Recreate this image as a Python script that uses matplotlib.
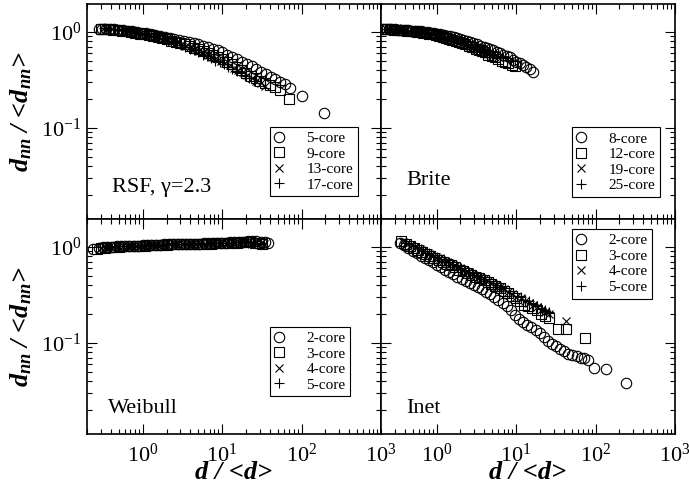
#!/usr/bin/env python3
"""Normalized nearest-neighbour degree vs normalized degree, k-core panels."""
import matplotlib
matplotlib.use('Agg')
import matplotlib.pyplot as plt

plt.rcParams['font.family'] = ['Liberation Serif', 'DejaVu Serif']
plt.rcParams['mathtext.fontset'] = 'custom'
plt.rcParams['mathtext.rm'] = 'Liberation Serif:bold'
plt.rcParams['mathtext.it'] = 'Liberation Serif:italic:bold'
plt.rcParams['mathtext.bf'] = 'Liberation Serif:bold'

# ---- RSF, gamma=2.3 ----
rsf5_x = [0.28, 0.31, 0.35, 0.39, 0.44, 0.5, 0.57, 0.65, 0.74, 0.85, 0.97, 1.1, 1.26, 1.45, 1.66,
          1.9, 2.2, 2.5, 2.9, 3.3, 3.8, 4.4, 5.0, 5.8, 6.6, 7.6, 8.8, 10.1, 11.6, 13.4,
          15.4, 17.7, 20.4, 23.5, 27, 31, 36, 41, 47, 54, 62, 72, 100, 192]
rsf5_y = [1.08, 1.08, 1.07, 1.07, 1.06, 1.05, 1.04, 1.03, 1.01, 1.0, 0.98, 0.97, 0.95, 0.93, 0.91,
          0.89, 0.87, 0.85, 0.83, 0.81, 0.79, 0.77, 0.74, 0.72, 0.69, 0.67, 0.64, 0.61, 0.58, 0.55,
          0.52, 0.49, 0.46, 0.44, 0.41, 0.385, 0.36, 0.34, 0.32, 0.30, 0.285, 0.26, 0.215, 0.142]
rsf9_x = [0.30, 0.34, 0.38, 0.43, 0.49, 0.55, 0.63, 0.71, 0.81, 0.92, 1.05, 1.2, 1.37, 1.56, 1.78,
          2.0, 2.3, 2.65, 3.0, 3.45, 3.95, 4.5, 5.2, 5.9, 6.8, 7.8, 8.9, 10.2, 11.7, 13.4,
          15.3, 17.5, 20, 23, 26.5, 30, 35, 40, 46, 53, 70]
rsf9_y = [1.07, 1.07, 1.06, 1.05, 1.04, 1.03, 1.01, 1.0, 0.98, 0.96, 0.94, 0.92, 0.9, 0.88, 0.86,
          0.84, 0.81, 0.79, 0.76, 0.74, 0.71, 0.68, 0.66, 0.63, 0.6, 0.575, 0.55, 0.52, 0.49, 0.46,
          0.435, 0.40, 0.375, 0.35, 0.33, 0.31, 0.295, 0.28, 0.265, 0.25, 0.20]
rsf13_x = [0.32, 0.36, 0.41, 0.46, 0.52, 0.59, 0.67, 0.76, 0.86, 0.98, 1.11, 1.26, 1.43, 1.62, 1.84,
           2.1, 2.4, 2.7, 3.1, 3.5, 4.0, 4.5, 5.1, 5.8, 6.6, 7.5, 8.5, 9.7, 11, 12.5,
           14.2, 16.1, 18.3, 20.8, 23.6, 26.8, 30.5, 35]
rsf13_y = [1.08, 1.07, 1.06, 1.05, 1.04, 1.03, 1.02, 1.0, 0.98, 0.96, 0.94, 0.92, 0.9, 0.88, 0.85,
           0.83, 0.8, 0.78, 0.75, 0.72, 0.69, 0.66, 0.63, 0.61, 0.58, 0.55, 0.53, 0.5, 0.47, 0.45,
           0.42, 0.4, 0.38, 0.355, 0.33, 0.31, 0.29, 0.27]
rsf17_x = [0.33, 0.37, 0.42, 0.47, 0.53, 0.6, 0.68, 0.77, 0.87, 0.99, 1.12, 1.27, 1.44, 1.63, 1.85,
           2.1, 2.4, 2.7, 3.05, 3.45, 3.9, 4.4, 5.0, 5.7, 6.4, 7.3, 8.2, 9.3, 10.5, 11.9,
           13.5, 15.3, 17.3, 19.6, 22, 25]
rsf17_y = [1.09, 1.08, 1.07, 1.06, 1.05, 1.04, 1.02, 1.0, 0.98, 0.96, 0.94, 0.91, 0.89, 0.86, 0.84,
           0.81, 0.78, 0.76, 0.73, 0.7, 0.67, 0.64, 0.61, 0.58, 0.56, 0.53, 0.5, 0.48, 0.46, 0.43,
           0.41, 0.39, 0.37, 0.35, 0.33, 0.31]

# ---- Brite ----
brite8_x = [0.21, 0.23, 0.25, 0.27, 0.3, 0.33, 0.36, 0.4, 0.44, 0.48, 0.53, 0.58, 0.64, 0.7, 0.77,
            0.85, 0.93, 1.02, 1.12, 1.23, 1.35, 1.49, 1.64, 1.8, 1.98, 2.18, 2.4, 2.64, 2.9, 3.2,
            3.5, 3.9, 4.3, 4.7, 5.2, 5.7, 6.3, 6.9, 7.6, 8.4, 9.2, 10.1, 11.1, 12.2, 13.4, 14.8, 16.3]
brite8_y = [1.07, 1.07, 1.06, 1.06, 1.06, 1.05, 1.05, 1.04, 1.04, 1.03, 1.02, 1.02, 1.01, 1.0, 0.99,
            0.98, 0.97, 0.96, 0.94, 0.93, 0.91, 0.9, 0.88, 0.86, 0.84, 0.82, 0.8, 0.78, 0.76, 0.74,
            0.72, 0.7, 0.68, 0.66, 0.64, 0.62, 0.6, 0.58, 0.56, 0.54, 0.51, 0.49, 0.47, 0.45, 0.425,
            0.405, 0.385]
brite12_x = [0.22, 0.24, 0.26, 0.29, 0.32, 0.35, 0.38, 0.42, 0.46, 0.51, 0.56, 0.61, 0.67, 0.74, 0.81,
             0.89, 0.98, 1.08, 1.19, 1.31, 1.44, 1.58, 1.74, 1.91, 2.1, 2.31, 2.54, 2.8, 3.1, 3.4,
             3.7, 4.1, 4.5, 5.0, 5.5, 6.0, 6.6, 7.3, 8.0, 8.8, 9.6]
brite12_y = [1.06, 1.06, 1.06, 1.05, 1.05, 1.04, 1.04, 1.03, 1.02, 1.01, 1.0, 0.99, 0.98, 0.97, 0.95,
             0.94, 0.92, 0.91, 0.89, 0.87, 0.85, 0.83, 0.81, 0.79, 0.77, 0.74, 0.72, 0.7, 0.67, 0.65,
             0.63, 0.61, 0.58, 0.56, 0.54, 0.52, 0.5, 0.48, 0.47, 0.455, 0.44]
brite19_x = [0.23, 0.25, 0.28, 0.31, 0.34, 0.37, 0.41, 0.45, 0.5, 0.55, 0.6, 0.66, 0.73, 0.8, 0.88,
             0.97, 1.07, 1.18, 1.3, 1.43, 1.57, 1.73, 1.9, 2.1, 2.3, 2.5, 2.8, 3.1, 3.4, 3.7,
             4.1, 4.5, 5.0, 5.5, 6.0]
brite19_y = [1.07, 1.07, 1.06, 1.06, 1.05, 1.05, 1.04, 1.03, 1.02, 1.01, 1.0, 0.99, 0.98, 0.96, 0.95,
             0.93, 0.91, 0.89, 0.87, 0.85, 0.83, 0.81, 0.78, 0.76, 0.74, 0.72, 0.69, 0.67, 0.65, 0.63,
             0.61, 0.59, 0.57, 0.55, 0.54]
brite25_x = [0.24, 0.26, 0.29, 0.32, 0.35, 0.39, 0.43, 0.47, 0.52, 0.57, 0.63, 0.69, 0.76, 0.84, 0.92,
             1.01, 1.11, 1.22, 1.34, 1.47, 1.62, 1.78, 1.96, 2.15, 2.37, 2.6, 2.86, 3.15, 3.45, 3.8,
             4.2, 4.6, 5.0]
brite25_y = [1.08, 1.07, 1.07, 1.06, 1.06, 1.05, 1.04, 1.03, 1.02, 1.01, 1.0, 0.99, 0.97, 0.96, 0.94,
             0.92, 0.9, 0.88, 0.86, 0.84, 0.82, 0.79, 0.77, 0.75, 0.73, 0.7, 0.68, 0.66, 0.64, 0.62,
             0.6, 0.58, 0.57]

# ---- Weibull ----
wb2_x = [0.24, 0.28, 0.32, 0.36, 0.41, 0.47, 0.53, 0.6, 0.68, 0.77, 0.88, 1.0, 1.13, 1.28, 1.46,
         1.66, 1.88, 2.14, 2.43, 2.76, 3.1, 3.55, 4.0, 4.6, 5.2, 5.9, 6.7, 7.6, 8.6, 9.8,
         11.1, 12.6, 14.3, 16.3, 18.5, 21, 24, 27, 31, 35, 38]
wb2_y = [0.94, 0.98, 0.99, 1.0, 1.0, 1.01, 1.01, 1.02, 1.02, 1.03, 1.03, 1.04, 1.04, 1.05, 1.05,
         1.05, 1.06, 1.06, 1.06, 1.07, 1.07, 1.07, 1.08, 1.08, 1.08, 1.09, 1.09, 1.09, 1.10, 1.10,
         1.10, 1.11, 1.11, 1.12, 1.13, 1.15, 1.16, 1.15, 1.13, 1.12, 1.09]
wb3_x = [0.27, 0.3, 0.34, 0.39, 0.44, 0.5, 0.57, 0.65, 0.73, 0.83, 0.94, 1.07, 1.21, 1.37, 1.56,
         1.77, 2.0, 2.28, 2.6, 2.95, 3.35, 3.8, 4.3, 4.9, 5.6, 6.3, 7.2, 8.2, 9.3, 10.5,
         12, 13.6, 15.4, 17.5, 20, 22.7, 25.8, 29, 32]
wb3_y = [0.95, 0.97, 0.98, 0.99, 1.0, 1.0, 1.01, 1.01, 1.02, 1.02, 1.03, 1.03, 1.04, 1.04, 1.04,
         1.05, 1.05, 1.06, 1.06, 1.06, 1.07, 1.07, 1.07, 1.08, 1.08, 1.08, 1.08, 1.09, 1.09, 1.09,
         1.10, 1.10, 1.10, 1.11, 1.11, 1.11, 1.10, 1.09, 1.07]
wb4_x = [0.3, 0.34, 0.38, 0.43, 0.49, 0.56, 0.63, 0.71, 0.8, 0.91, 1.03, 1.17, 1.32, 1.5, 1.7,
         1.92, 2.18, 2.47, 2.8, 3.2, 3.6, 4.1, 4.6, 5.2, 5.9, 6.7, 7.6, 8.6, 9.8, 11.1,
         12.6, 14.3, 16.2, 18.4, 20.9, 23.7, 27, 30.5, 34]
wb4_y = [0.98, 0.99, 1.0, 1.0, 1.01, 1.01, 1.02, 1.02, 1.03, 1.03, 1.03, 1.04, 1.04, 1.05, 1.05,
         1.05, 1.06, 1.06, 1.06, 1.07, 1.07, 1.07, 1.08, 1.08, 1.08, 1.09, 1.09, 1.09, 1.09, 1.10,
         1.10, 1.10, 1.11, 1.11, 1.11, 1.11, 1.10, 1.09, 1.08]
wb5_x = [0.31, 0.35, 0.4, 0.45, 0.51, 0.58, 0.66, 0.74, 0.84, 0.95, 1.08, 1.22, 1.38, 1.56, 1.77,
         2.0, 2.27, 2.57, 2.9, 3.3, 3.75, 4.25, 4.8, 5.45, 6.2, 7.0, 7.9, 9.0, 10.2, 11.5,
         13, 14.8, 16.7, 19, 21.5, 24.4, 27.6, 30]
wb5_y = [0.99, 1.0, 1.0, 1.01, 1.01, 1.02, 1.02, 1.03, 1.03, 1.03, 1.04, 1.04, 1.05, 1.05, 1.05,
         1.06, 1.06, 1.06, 1.07, 1.07, 1.07, 1.08, 1.08, 1.08, 1.09, 1.09, 1.09, 1.09, 1.10, 1.10,
         1.10, 1.11, 1.11, 1.11, 1.10, 1.10, 1.09, 1.08]

# ---- Inet ----
inet2_x = [0.35, 0.39, 0.44, 0.5, 0.56, 0.63, 0.71, 0.8, 0.9, 1.01, 1.14, 1.28, 1.44, 1.62, 1.83,
           2.06, 2.32, 2.6, 2.95, 3.3, 3.75, 4.2, 4.75, 5.35, 6.0, 6.8, 7.6, 8.6, 9.7, 10.9,
           12.3, 13.8, 15.6, 17.6, 19.8, 22.3, 25, 28.3, 32, 36, 40.5, 45.5, 51, 58, 65,
           72, 81, 97, 135, 244]
inet2_y = [1.1, 1.04, 0.97, 0.9, 0.86, 0.8, 0.76, 0.73, 0.69, 0.65, 0.62, 0.58, 0.55, 0.52, 0.49,
           0.46, 0.44, 0.42, 0.4, 0.38, 0.36, 0.34, 0.32, 0.3, 0.28, 0.26, 0.24, 0.22, 0.195, 0.175,
           0.165, 0.155, 0.145, 0.135, 0.125, 0.115, 0.105, 0.098, 0.092, 0.087, 0.082, 0.077, 0.074,
           0.072, 0.07, 0.069, 0.066, 0.054, 0.053, 0.038]
inet3_x = [0.36, 0.41, 0.46, 0.52, 0.58, 0.66, 0.74, 0.83, 0.94, 1.06, 1.19, 1.34, 1.5, 1.7, 1.9,
           2.15, 2.42, 2.72, 3.05, 3.45, 3.9, 4.4, 4.9, 5.5, 6.2, 7.0, 7.9, 8.9, 10, 11.3,
           12.7, 14.3, 16.1, 18.1, 20.4, 23, 26, 33.4, 43, 74.5]
inet3_y = [1.14, 1.08, 1.02, 0.97, 0.93, 0.89, 0.85, 0.81, 0.77, 0.73, 0.7, 0.67, 0.64, 0.61, 0.58,
           0.56, 0.53, 0.51, 0.49, 0.47, 0.45, 0.43, 0.41, 0.39, 0.37, 0.35, 0.33, 0.31, 0.29, 0.27,
           0.25, 0.24, 0.23, 0.22, 0.2, 0.19, 0.18, 0.14, 0.14, 0.113]
inet4_x = [0.38, 0.43, 0.48, 0.54, 0.61, 0.68, 0.77, 0.86, 0.97, 1.09, 1.22, 1.37, 1.54, 1.73, 1.95,
           2.2, 2.47, 2.78, 3.12, 3.5, 3.95, 4.45, 5.0, 5.6, 6.3, 7.1, 8.0, 9.0, 10.1, 11.4,
           12.8, 14.4, 16.2, 18.2, 20.5, 23, 26, 42.5]
inet4_y = [1.12, 1.08, 1.04, 0.99, 0.95, 0.91, 0.87, 0.83, 0.79, 0.76, 0.72, 0.69, 0.66, 0.63, 0.6,
           0.57, 0.55, 0.52, 0.5, 0.48, 0.46, 0.44, 0.42, 0.4, 0.38, 0.36, 0.34, 0.32, 0.3, 0.29,
           0.27, 0.26, 0.245, 0.235, 0.222, 0.21, 0.2, 0.168]
inet5_x = [0.4, 0.45, 0.5, 0.56, 0.63, 0.71, 0.8, 0.9, 1.01, 1.13, 1.27, 1.43, 1.6, 1.8, 2.02,
           2.27, 2.55, 2.86, 3.2, 3.6, 4.05, 4.55, 5.1, 5.7, 6.4, 7.2, 8.1, 9.1, 10.2, 11.5,
           12.9, 14.5, 16.3, 18.3, 20.6, 23, 26]
inet5_y = [1.1, 1.06, 1.02, 0.98, 0.94, 0.9, 0.86, 0.82, 0.79, 0.75, 0.72, 0.69, 0.66, 0.63, 0.6,
           0.58, 0.55, 0.53, 0.5, 0.48, 0.46, 0.44, 0.42, 0.4, 0.38, 0.37, 0.35, 0.33, 0.31, 0.3,
           0.28, 0.27, 0.255, 0.24, 0.23, 0.22, 0.208]

rsf_labels = ['5-core', '9-core', '13-core', '17-core']
brite_labels = ['8-core', '12-core', '19-core', '25-core']
wb_labels = ['2-core', '3-core', '4-core', '5-core']
inet_labels = ['2-core', '3-core', '4-core', '5-core']

# marker, size per series position
styles = [('o', 7.5), ('s', 6.5), ('x', 5.5), ('+', 7.5)]

panels = [
    # (row, col, series, labels, text, legend anchor, text pos)
    (0, 0, [(rsf5_x, rsf5_y), (rsf9_x, rsf9_y), (rsf13_x, rsf13_y), (rsf17_x, rsf17_y)],
     rsf_labels, 'RSF, \u03b3=2.3', (0.622, 0.428), (0.084, 0.127)),
    (0, 1, [(brite8_x, brite8_y), (brite12_x, brite12_y), (brite19_x, brite19_y), (brite25_x, brite25_y)],
     brite_labels, 'Brite', (0.649, 0.426), (0.087, 0.158)),
    (1, 0, [(wb2_x, wb2_y), (wb3_x, wb3_y), (wb4_x, wb4_y), (wb5_x, wb5_y)],
     wb_labels, 'Weibull', (0.622, 0.499), (0.073, 0.099)),
    (1, 1, [(inet2_x, inet2_y), (inet3_x, inet3_y), (inet4_x, inet4_y), (inet5_x, inet5_y)],
     inet_labels, 'Inet', (0.649, 0.953), (0.087, 0.099)),
]


def main():
    fig, axes = plt.subplots(2, 2, sharex=True, sharey=True, figsize=(6.89, 4.98))
    fig.subplots_adjust(left=0.1263, right=0.9797, top=0.992, bottom=0.1285,
                        wspace=0, hspace=0)

    for r, c, series, labels, text, leg_pos, txt_pos in panels:
        ax = axes[r, c]
        for (xs, ys), lab, (mk, ms) in zip(series, labels, styles):
            ax.plot(xs, ys, linestyle='none', marker=mk, markersize=ms,
                    markerfacecolor='none', markeredgecolor='black',
                    markeredgewidth=0.8, label=lab)
        ax.set_xscale('log')
        ax.set_yscale('log')
        ax.set_xlim(0.2, 1000)
        ax.set_ylim(0.0112, 1.95)
        ax.tick_params(which='both', direction='in', top=True, right=True,
                       labelsize=16, width=0.8)
        ax.tick_params(which='major', length=7)
        ax.tick_params(which='minor', length=3.5)
        ax.tick_params(axis='x', pad=7)
        ax.tick_params(axis='y', pad=4)
        for sp in ax.spines.values():
            sp.set_linewidth(1.2)
        ax.text(txt_pos[0], txt_pos[1], text, transform=ax.transAxes,
                fontsize=16, ha='left', va='baseline')
        leg = ax.legend(loc='upper left', bbox_to_anchor=leg_pos, borderaxespad=0,
                        fontsize=11, frameon=True, fancybox=False, framealpha=1,
                        edgecolor='black', borderpad=0.3, handlelength=0.6,
                        handletextpad=1.5, labelspacing=0.12)
        leg.get_frame().set_linewidth(0.8)

    for ax in axes[1, :]:
        ax.set_xlabel('d / <d>', fontsize=19, fontweight='bold', style='italic',
                      labelpad=-4)
    for ax in axes[:, 0]:
        ax.set_ylabel(r'$d_{nn}$ / <$d_{nn}$>', fontsize=19, fontweight='bold',
                      style='italic', labelpad=5)

    fig.savefig('out.png', dpi=100)
    plt.close(fig)


if __name__ == '__main__':
    main()
